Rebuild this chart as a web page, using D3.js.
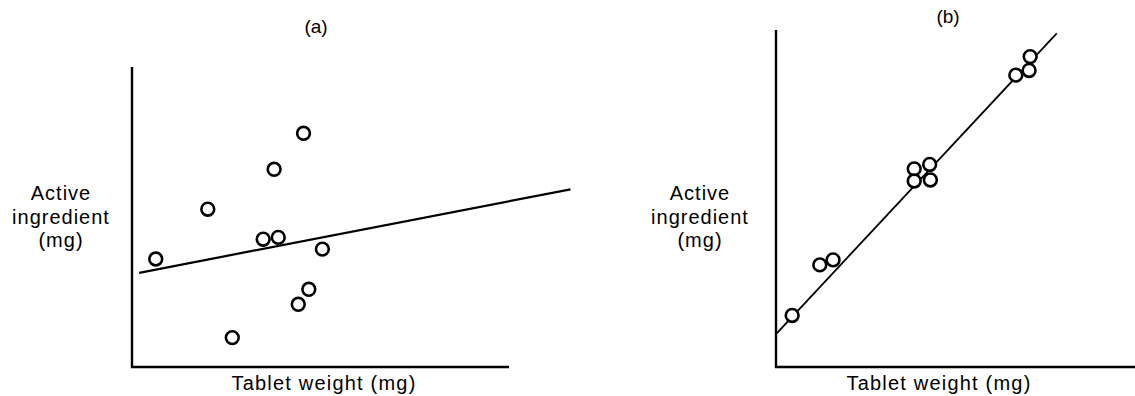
<!DOCTYPE html>
<html>
<head>
<meta charset="utf-8">
<script src="https://cdn.jsdelivr.net/npm/d3@7"></script>
<style>
  html, body { margin: 0; padding: 0; background: #fff; }
  svg { display: block; }
  text { font-family: "Liberation Sans", Arial, Helvetica, sans-serif; fill: #000; }
</style>
</head>
<body>
<svg id="chart" width="1135" height="396"></svg>
<script>
// ---- Data (arbitrary units) ----
const panelTitles = ["(a)", "(b)"];
const xAxisLabel = "Tablet weight (mg)";
const yAxisLabelLines = ["Active", "ingredient", "(mg)"];

// Panel (a): poor correlation
const aWeight = [0.63, 2.01, 2.66, 3.48, 3.88, 3.77, 4.55, 5.05, 4.69, 4.41];
const aActive = [3.60, 5.26, 0.98, 4.26, 4.32, 6.59, 7.79, 3.93, 2.59, 2.09];
const aFitX = [0.19, 11.63];
const aFitY = [3.14, 5.92];

// Panel (b): strong correlation
const bWeight = [0.45, 1.22, 1.59, 3.85, 4.28, 3.85, 4.30, 6.68, 7.05, 7.08];
const bActive = [1.53, 3.03, 3.18, 5.88, 6.01, 5.52, 5.55, 8.66, 8.80, 9.21];
const bFitX = [0.02, 7.82];
const bFitY = [1.00, 9.90];

// ---- Drawing ----
const svg = d3.select("#chart");

function drawPanel(cfg) {
  const x = d3.scaleLinear().domain([0, 10]).range(cfg.xRange);
  const y = d3.scaleLinear().domain([0, 10]).range(cfg.yRange);
  const g = svg.append("g");

  // axes (no ticks)
  const xAxis = d3.axisBottom(x).tickValues([]).tickSizeOuter(0);
  const yAxis = d3.axisLeft(y).tickValues([]).tickSizeOuter(0);
  const gx = g.append("g").attr("transform", `translate(0,${cfg.yRange[0]})`).call(xAxis);
  gx.select(".domain").attr("d", `M${cfg.xRange[0] - 1},0H${cfg.xAxisEnd}`);
  const gy = g.append("g").attr("transform", `translate(${cfg.xRange[0]},0)`).call(yAxis);
  gy.select(".domain").attr("d", `M0,${cfg.yRange[0] + 1}V${cfg.yAxisTop}`);
  g.selectAll(".domain").attr("stroke", "#000").attr("stroke-width", 2.4).attr("fill", "none");

  // fitted line
  const fit = cfg.fitX.map((v, i) => [v, cfg.fitY[i]]);
  g.append("path")
    .datum(fit)
    .attr("d", d3.line().x(d => x(d[0])).y(d => y(d[1])))
    .attr("stroke", "#000").attr("stroke-width", cfg.fitWidth).attr("fill", "none");

  // points
  const pts = cfg.wx.map((v, i) => [v, cfg.wy[i]]);
  g.selectAll("circle.pt").data(pts).enter().append("circle")
    .attr("class", "pt")
    .attr("cx", d => x(d[0])).attr("cy", d => y(d[1]))
    .attr("r", 6.4)
    .attr("fill", "#fff").attr("stroke", "#000").attr("stroke-width", 2.6);

  // title
  g.append("text").attr("x", cfg.titleX).attr("y", cfg.titleY)
    .attr("text-anchor", "middle").attr("font-size", 19).text(cfg.title);

  // x label
  g.append("text").attr("x", cfg.xLabelX).attr("y", 390)
    .attr("text-anchor", "middle").attr("font-size", 20)
    .attr("letter-spacing", 1.2).text(xAxisLabel);

  // y label
  const yl = g.append("text").attr("text-anchor", "middle").attr("font-size", 20)
    .attr("letter-spacing", 1);
  yAxisLabelLines.forEach((t, i) => {
    yl.append("tspan").attr("x", cfg.yLabelX).attr("y", cfg.yLabelY + i * 23.5).text(t);
  });
}

drawPanel({
  title: panelTitles[0], titleX: 316, titleY: 33,
  xRange: [132, 509], yRange: [367, 67], xAxisEnd: 509, yAxisTop: 67,
  wx: aWeight, wy: aActive, fitX: aFitX, fitY: aFitY, fitWidth: 2.2,
  xLabelX: 324, yLabelX: 61, yLabelY: 200
});

drawPanel({
  title: panelTitles[1], titleX: 948, titleY: 23,
  xRange: [776, 1135], yRange: [367, 30], xAxisEnd: 1135, yAxisTop: 30,
  wx: bWeight, wy: bActive, fitX: bFitX, fitY: bFitY, fitWidth: 1.8,
  xLabelX: 939, yLabelX: 700, yLabelY: 200
});
</script>
</body>
</html>
